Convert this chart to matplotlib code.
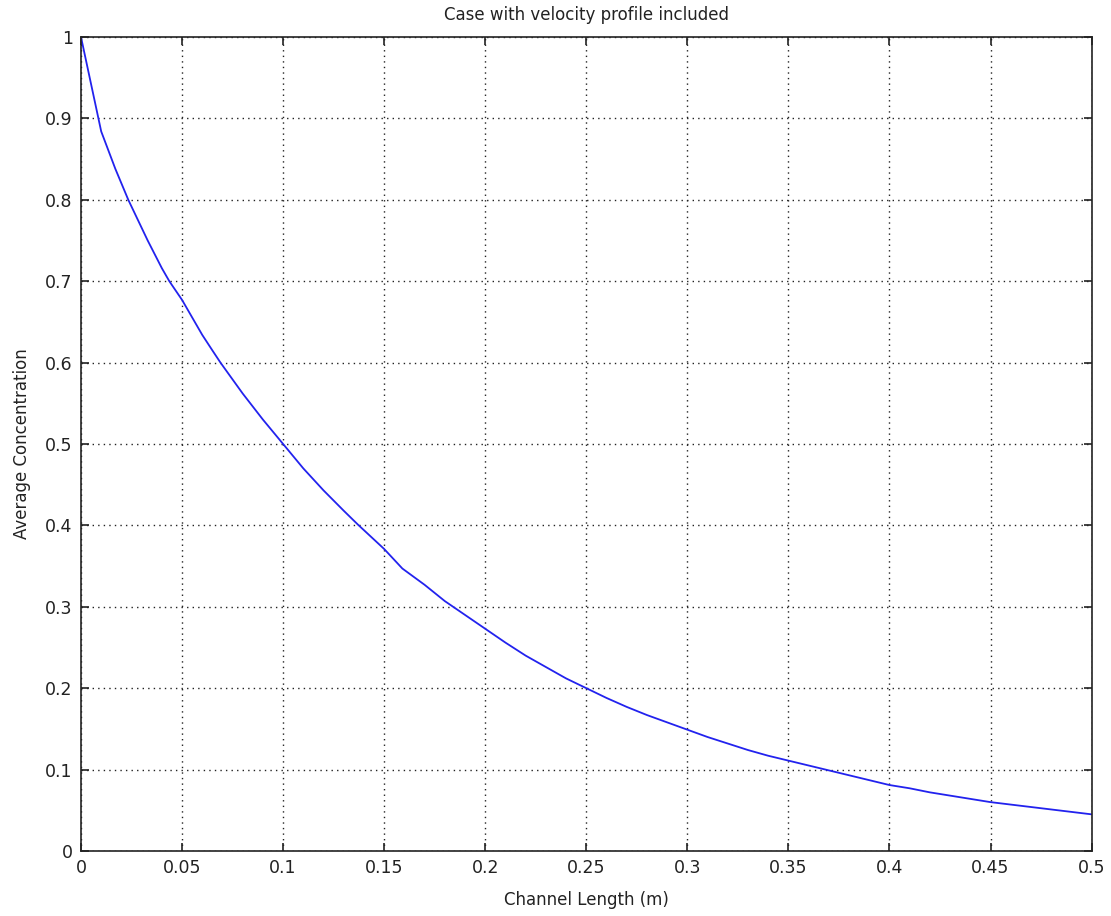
import matplotlib
matplotlib.use("Agg")
import matplotlib.pyplot as plt

# Data
channel_length = [0.0, 0.01, 0.017, 0.0234, 0.033, 0.04, 0.0437, 0.05, 0.06, 0.065, 0.069,
                  0.08, 0.09, 0.1,
                  0.11, 0.12, 0.13, 0.137, 0.15, 0.159, 0.17, 0.18, 0.19, 0.2,
                  0.21, 0.22, 0.23, 0.24, 0.25, 0.26, 0.27, 0.28, 0.29, 0.3,
                  0.31, 0.32, 0.33, 0.34, 0.35, 0.36, 0.37, 0.38, 0.39, 0.4,
                  0.41, 0.42, 0.43, 0.44, 0.45, 0.46, 0.47, 0.48, 0.49, 0.5]
avg_concentration = [1.0, 0.884, 0.838, 0.80, 0.75, 0.716, 0.70, 0.677, 0.634, 0.615, 0.60,
                     0.562, 0.53, 0.50,
                     0.470, 0.443, 0.418, 0.401, 0.371, 0.347, 0.327, 0.307, 0.29, 0.273,
                     0.256, 0.240, 0.226, 0.212, 0.20, 0.188, 0.177, 0.167, 0.158, 0.149,
                     0.140, 0.132, 0.124, 0.117, 0.111, 0.105, 0.099, 0.093, 0.087, 0.081,
                     0.077, 0.072, 0.068, 0.064, 0.060, 0.057, 0.054, 0.051, 0.048, 0.045]
x_ticks = [0, 0.05, 0.1, 0.15, 0.2, 0.25, 0.3, 0.35, 0.4, 0.45, 0.5]
x_tick_labels = ["0", "0.05", "0.1", "0.15", "0.2", "0.25", "0.3", "0.35", "0.4", "0.45", "0.5"]
y_ticks = [0, 0.1, 0.2, 0.3, 0.4, 0.5, 0.6, 0.7, 0.8, 0.9, 1]
y_tick_labels = ["0", "0.1", "0.2", "0.3", "0.4", "0.5", "0.6", "0.7", "0.8", "0.9", "1"]

plt.rcParams['font.family'] = ['DejaVu Sans']
text_color = "#222222"
fig = plt.figure(figsize=(11.11, 9.16), dpi=100)
ax = fig.add_axes([0.0729, 0.071, 0.9096, 0.8886])

ax.plot(channel_length, avg_concentration, color="#2222ee", linewidth=1.3)

ax.set_xlim(0, 0.5)
ax.set_ylim(0, 1)
ax.set_xticks(x_ticks)
ax.set_xticklabels(x_tick_labels)
ax.set_yticks(y_ticks)
ax.set_yticklabels(y_tick_labels)
ax.grid(True, linestyle=(0, (1, 3)), color="#222222", linewidth=1.0)
ax.tick_params(direction="in", top=True, right=True, length=6, width=1.2,
               labelsize=12.5, colors=text_color, pad=6)
for s in ax.spines.values():
    s.set_linewidth(1.2)
    s.set_color("#222222")

ax.set_title("Case with velocity profile included", fontsize=12, pad=12, color=text_color)
ax.set_xlabel("Channel Length (m)", fontsize=12, labelpad=10, color=text_color)
ax.set_ylabel("Average Concentration", fontsize=12, labelpad=10, color=text_color)

fig.savefig("out.png", dpi=100)
